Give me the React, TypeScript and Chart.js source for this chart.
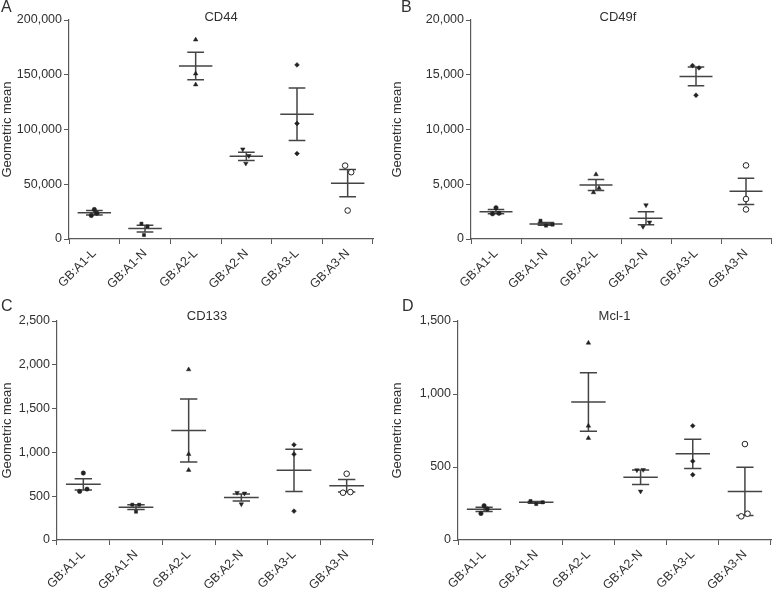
import React, { useEffect, useRef } from 'react';
import { Chart, registerables } from 'chart.js';

Chart.register(...registerables);

const CATEGORIES = ['GB:A1-L', 'GB:A1-N', 'GB:A2-L', 'GB:A2-N', 'GB:A3-L', 'GB:A3-N'];

// Panel A: CD44
const CD44_VALUES = [
  [27000, 21500, 23500],
  [14000, 11500, 3600],
  [182000, 151000, 141000],
  [82000, 76000, 69000],
  [159000, 105500, 78000],
  [67000, 61000, 26000],
];
const CD44_MEANS = [24000, 9500, 158000, 75500, 114000, 51000];
const CD44_SEMS = [2000, 3000, 12500, 3800, 24000, 12500];
const CD44_JITTER = [[0, -0.06, 0.05], [-0.07, 0.05, -0.02], [0, 0, 0], [-0.07, 0.05, -0.01], [0, 0, 0], [-0.05, 0.07, 0]];
const CD44_Y_MAX = 200000;
const CD44_Y_STEP = 50000;

// Panel B: CD49f
const CD49F_VALUES = [
  [2850, 2300, 2350],
  [1670, 1220, 1310],
  [5900, 4650, 4250],
  [3100, 1520, 1125],
  [15840, 15625, 13130],
  [6720, 3650, 2700],
];
const CD49F_MEANS = [2500, 1380, 4930, 1900, 14850, 4350];
const CD49F_SEMS = [200, 130, 500, 600, 850, 1200];
const CD49F_JITTER = [[0, -0.07, 0.06], [-0.11, 0, 0.13], [0, 0.06, -0.05], [0, 0.07, -0.06], [-0.07, 0.06, 0], [0, 0, 0]];
const CD49F_Y_MAX = 20000;
const CD49F_Y_STEP = 5000;

// Panel C: CD133
const CD133_VALUES = [
  [764, 555, 581],
  [403, 403, 323],
  [1946, 980, 798],
  [540, 532, 410],
  [1087, 980, 330],
  [756, 540, 547],
];
const CD133_MEANS = [635, 375, 1250, 485, 795, 620];
const CD133_SEMS = [65, 27, 360, 40, 240, 72];
const CD133_JITTER = [[0, -0.07, 0.07], [-0.07, 0.06, 0], [0, 0, 0], [-0.08, 0.06, 0], [0, 0, 0], [0, -0.07, 0.07]];
const CD133_Y_MAX = 2500;
const CD133_Y_STEP = 500;

// Panel D: Mcl-1
const MCL1_VALUES = [
  [235, 182, 212],
  [267, 246, 258],
  [1350, 782, 698],
  [479, 481, 333],
  [782, 540, 447],
  [657, 162, 180],
];
const MCL1_MEANS = [210, 258, 945, 430, 590, 333];
const MCL1_SEMS = [15, 6, 200, 50, 100, 165];
const MCL1_JITTER = [[0, -0.06, 0.06], [-0.11, 0, 0.12], [0, 0, 0], [-0.07, 0.05, 0], [0, 0, 0], [0, -0.07, 0.05]];
const MCL1_Y_MAX = 1500;
const MCL1_Y_STEP = 500;

const POINT_STYLES = ['circle', 'rect', 'triangle', 'triangle', 'rectRot', 'circle'];
const POINT_ROTATIONS = [0, 0, 0, 180, 0, 0];
const POINT_FILLS = ['#222', '#222', '#222', '#222', '#222', '#ffffff'];
const POINT_RADII = [2.2, 2.2, 2.6, 2.6, 2.4, 2.8];

const TEXT = '#303030';
const AXIS = '#5a5a5a';
const BAR = '#444444';
const FONT = "'Liberation Sans', Arial, Helvetica, sans-serif";

type PanelCfg = {
  letter: string;
  title: string;
  values: number[][];
  means: number[];
  sems: number[];
  jitter: number[][];
  yMax: number;
  yStep: number;
  left: number;
  top: number;
  width: number;
  height: number;
  area: { left: number; top: number; right: number; bottom: number };
  titleDx: number;
  letterX: number;
};

const PANELS: PanelCfg[] = [
  {
    letter: 'A', title: 'CD44', values: CD44_VALUES, means: CD44_MEANS, sems: CD44_SEMS, jitter: CD44_JITTER,
    yMax: CD44_Y_MAX, yStep: CD44_Y_STEP,
    left: 0, top: 0, width: 388, height: 299,
    area: { left: 69, top: 20, right: 373, bottom: 239 }, titleDx: 0, letterX: 1,
  },
  {
    letter: 'B', title: 'CD49f', values: CD49F_VALUES, means: CD49F_MEANS, sems: CD49F_SEMS, jitter: CD49F_JITTER,
    yMax: CD49F_Y_MAX, yStep: CD49F_Y_STEP,
    left: 390, top: 0, width: 386, height: 299,
    area: { left: 81, top: 20, right: 385, bottom: 239 }, titleDx: -3, letterX: 11,
  },
  {
    letter: 'C', title: 'CD133', values: CD133_VALUES, means: CD133_MEANS, sems: CD133_SEMS, jitter: CD133_JITTER,
    yMax: CD133_Y_MAX, yStep: CD133_Y_STEP,
    left: 0, top: 299, width: 388, height: 294,
    area: { left: 57, top: 22, right: 373, bottom: 241 }, titleDx: -8, letterX: 1,
  },
  {
    letter: 'D', title: 'Mcl-1', values: MCL1_VALUES, means: MCL1_MEANS, sems: MCL1_SEMS, jitter: MCL1_JITTER,
    yMax: MCL1_Y_MAX, yStep: MCL1_Y_STEP,
    left: 390, top: 299, width: 386, height: 294,
    area: { left: 68, top: 22, right: 385, bottom: 241 }, titleDx: 0, letterX: 12,
  },
];

const errorBarPlugin = {
  id: 'errorBars',
  beforeDatasetsDraw(chart: any, _args: any, opts: any) {
    const { ctx } = chart;
    const xs = chart.scales.x;
    const ys = chart.scales.y;
    const means: number[] = opts.means || [];
    const sems: number[] = opts.sems || [];
    ctx.save();
    ctx.strokeStyle = BAR;
    ctx.lineWidth = 1.5;
    means.forEach((m, i) => {
      const s = sems[i];
      const xc = xs.getPixelForValue(i);
      const xl = xs.getPixelForValue(i - 0.33);
      const xr = xs.getPixelForValue(i + 0.33);
      const cl = xs.getPixelForValue(i - 0.165);
      const cr = xs.getPixelForValue(i + 0.165);
      const ym = ys.getPixelForValue(m);
      const yt = ys.getPixelForValue(m + s);
      const yb = ys.getPixelForValue(m - s);
      ctx.beginPath();
      ctx.moveTo(xl, ym); ctx.lineTo(xr, ym);
      ctx.moveTo(xc, yt); ctx.lineTo(xc, yb);
      ctx.moveTo(cl, yt); ctx.lineTo(cr, yt);
      ctx.moveTo(cl, yb); ctx.lineTo(cr, yb);
      ctx.stroke();
    });
    ctx.restore();
  },
};

const labelsPlugin = {
  id: 'panelLabels',
  afterDraw(chart: any, _args: any, opts: any) {
    const { ctx, chartArea } = chart;
    ctx.save();
    ctx.fillStyle = TEXT;
    ctx.textBaseline = 'middle';
    ctx.textAlign = 'center';
    ctx.font = `13px ${FONT}`;
    ctx.fillText(opts.title, (chartArea.left + chartArea.right) / 2 + opts.titleDx, 17);
    ctx.textAlign = 'left';
    ctx.textBaseline = 'top';
    ctx.font = `16px ${FONT}`;
    ctx.fillText(opts.letter, opts.letterX, 0);
    ctx.restore();
  },
};

function Panel({ cfg }: { cfg: PanelCfg }) {
  const ref = useRef<HTMLCanvasElement | null>(null);
  useEffect(() => {
    if (!ref.current) return;
    const datasets = cfg.values.map((vals, i) => ({
      label: CATEGORIES[i],
      data: vals.map((v, j) => ({ x: i + cfg.jitter[i][j], y: v })),
      pointStyle: POINT_STYLES[i],
      rotation: POINT_ROTATIONS[i],
      pointRadius: POINT_RADII[i],
      pointBackgroundColor: POINT_FILLS[i],
      pointBorderColor: '#222',
      pointBorderWidth: i === 5 ? 1 : 0.5,
      showLine: false,
      xAxisID: 'x',
      yAxisID: 'y',
    }));
    const a = cfg.area;
    const chart = new Chart(ref.current, {
      type: 'scatter',
      data: { labels: CATEGORIES, datasets: datasets as any },
      options: {
        animation: false,
        responsive: false,
        maintainAspectRatio: false,
        events: [],
        layout: { padding: { left: 0, top: a.top, right: cfg.width - a.right, bottom: 0 } },
        plugins: {
          legend: { display: false },
          tooltip: { enabled: false },
          title: { display: false },
          errorBars: { means: cfg.means, sems: cfg.sems },
          panelLabels: { title: cfg.title, letter: cfg.letter, titleDx: cfg.titleDx, letterX: cfg.letterX },
        } as any,
        scales: {
          x: {
            type: 'linear',
            display: false,
            min: -0.5,
            max: 5.5,
          },
          x2: {
            type: 'category',
            position: 'bottom',
            labels: CATEGORIES,
            offset: true,
            grid: { display: true, offset: true, drawOnChartArea: false, drawTicks: true, tickLength: 5, color: AXIS, lineWidth: 1 },
            border: { display: true, color: AXIS, width: 1.2 },
            ticks: {
              color: TEXT,
              font: { family: FONT, size: 12.5 },
              maxRotation: 45,
              minRotation: 45,
              padding: 2,
              autoSkip: false,
            },
            afterFit(scale: any) {
              scale.height = cfg.height - a.bottom;
              scale.paddingLeft = 0;
              scale.paddingRight = 0;
            },
          } as any,
          y: {
            type: 'linear',
            min: 0,
            max: cfg.yMax,
            grid: { display: true, drawOnChartArea: false, drawTicks: true, tickLength: 5, color: AXIS, lineWidth: 1 },
            border: { display: true, color: AXIS, width: 1.2 },
            ticks: {
              stepSize: cfg.yStep,
              color: TEXT,
              font: { family: FONT, size: 12.5 },
              padding: 2,
              callback: (v: any) => Number(v).toLocaleString('en-US'),
            },
            title: {
              display: true,
              text: 'Geometric mean',
              color: TEXT,
              font: { family: FONT, size: 13 },
              padding: { top: 0, bottom: 0 },
            },
            afterFit(scale: any) {
              scale.width = a.left;
              scale.paddingTop = 0;
              scale.paddingBottom = 0;
            },
          } as any,
        },
      },
      plugins: [errorBarPlugin, labelsPlugin],
    });
    return () => chart.destroy();
  }, [cfg]);
  return (
    <canvas
      ref={ref}
      width={cfg.width}
      height={cfg.height}
      style={{ position: 'absolute', left: cfg.left, top: cfg.top, width: cfg.width, height: cfg.height }}
    />
  );
}

export default function App() {
  return (
    <div style={{ position: 'fixed', left: 0, top: 0, width: 776, height: 593, background: '#ffffff', overflow: 'hidden' }}>
      {PANELS.map((p) => (
        <Panel key={p.letter} cfg={p} />
      ))}
    </div>
  );
}
